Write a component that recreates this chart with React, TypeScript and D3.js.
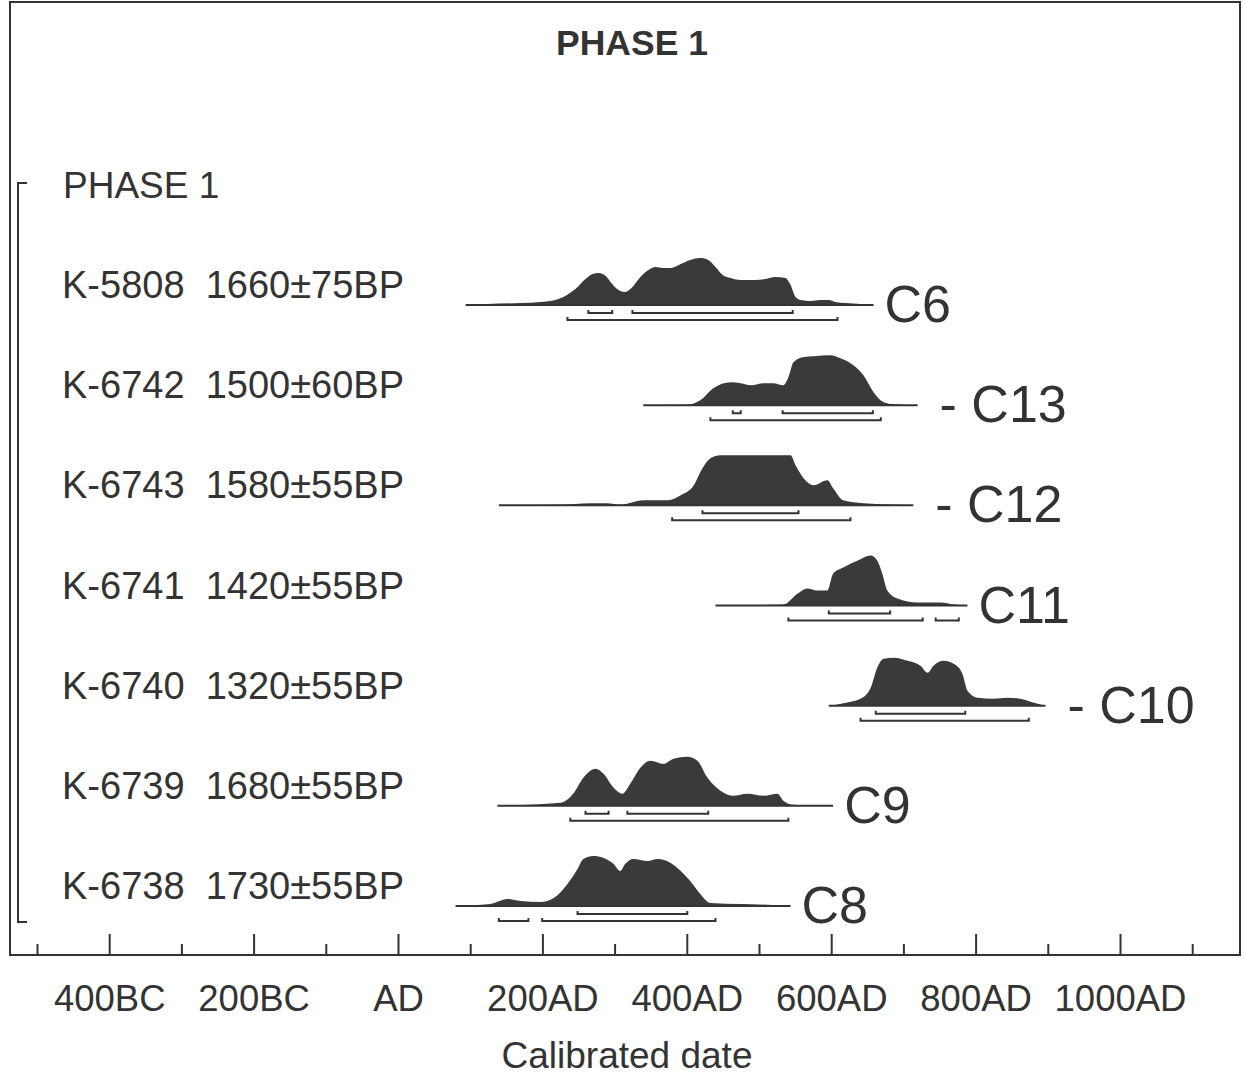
import React, { Component } from "react"
import * as d3 from "d3"

const samples = [ "K-5808", "K-6742", "K-6743", "K-6741", "K-6740", "K-6739", "K-6738" ]
const bpDates = [ "1660±75BP", "1500±60BP", "1580±55BP", "1420±55BP", "1320±55BP", "1680±55BP", "1730±55BP" ]
const contexts = [ "C6", "C13", "C12", "C11", "C10", "C9", "C8" ]
const dashedLabel = [ false, true, true, false, true, false, false ]

// [calendar year, relative probability %]
const c6Curve = [
  [ 93, 0 ], [ 123, 2 ], [ 169, 4 ], [ 197, 6 ], [ 217, 10 ], [ 231, 18 ], [ 245, 32 ], [ 259, 52 ], [ 269, 62 ],
  [ 277, 64 ], [ 287, 58 ], [ 296, 42 ], [ 307, 28 ], [ 314, 26 ], [ 324, 36 ], [ 335, 56 ], [ 346, 70 ],
  [ 356, 76 ], [ 366, 74 ], [ 377, 74 ], [ 391, 82 ], [ 404, 90 ], [ 418, 94 ], [ 429, 90 ], [ 439, 76 ],
  [ 449, 60 ], [ 460, 54 ], [ 474, 50 ], [ 494, 50 ], [ 508, 52 ], [ 522, 56 ], [ 536, 54 ], [ 543, 40 ],
  [ 550, 16 ], [ 557, 10 ], [ 571, 8 ], [ 584, 10 ], [ 596, 10 ], [ 605, 6 ], [ 619, 4 ], [ 640, 2 ], [ 658, 0 ]
]
const c13Curve = [
  [ 339, 0 ], [ 400, 1 ], [ 418, 10 ], [ 436, 34 ], [ 460, 46 ], [ 474, 44 ], [ 488, 40 ], [ 506, 44 ],
  [ 519, 44 ], [ 533, 40 ], [ 540, 56 ], [ 547, 86 ], [ 560, 96 ], [ 575, 98 ], [ 598, 100 ], [ 612, 94 ],
  [ 630, 80 ], [ 644, 60 ], [ 658, 26 ], [ 672, 6 ], [ 686, 2 ], [ 719, 0 ]
]
const c12Curve = [
  [ 139, 0 ], [ 224, 1 ], [ 266, 4 ], [ 289, 4 ], [ 307, 1 ], [ 339, 10 ], [ 373, 10 ], [ 391, 20 ],
  [ 409, 40 ], [ 421, 74 ], [ 432, 94 ], [ 446, 100 ], [ 483, 100 ], [ 543, 100 ], [ 550, 80 ], [ 561, 54 ],
  [ 575, 40 ], [ 594, 50 ], [ 602, 34 ], [ 616, 10 ], [ 644, 4 ], [ 668, 2 ], [ 713, 0 ]
]
const c11Curve = [
  [ 439, 0 ], [ 533, 2 ], [ 553, 24 ], [ 566, 34 ], [ 580, 30 ], [ 594, 30 ], [ 602, 64 ], [ 616, 76 ],
  [ 636, 90 ], [ 654, 100 ], [ 663, 90 ], [ 670, 64 ], [ 677, 30 ], [ 691, 14 ], [ 719, 6 ], [ 741, 6 ],
  [ 751, 6 ], [ 769, 2 ], [ 788, 0 ]
]
const c10Curve = [
  [ 596, 0 ], [ 620, 6 ], [ 640, 14 ], [ 654, 36 ], [ 663, 76 ], [ 672, 94 ], [ 686, 96 ], [ 705, 90 ],
  [ 723, 80 ], [ 733, 66 ], [ 741, 80 ], [ 755, 90 ], [ 769, 84 ], [ 781, 64 ], [ 788, 30 ], [ 802, 16 ],
  [ 824, 14 ], [ 843, 16 ], [ 861, 14 ], [ 880, 6 ], [ 896, 0 ]
]
const c9Curve = [
  [ 137, 0 ], [ 224, 6 ], [ 242, 24 ], [ 256, 56 ], [ 273, 74 ], [ 284, 64 ], [ 298, 36 ], [ 310, 24 ],
  [ 321, 44 ], [ 335, 76 ], [ 349, 90 ], [ 367, 84 ], [ 381, 94 ], [ 400, 98 ], [ 414, 90 ], [ 428, 56 ],
  [ 446, 30 ], [ 464, 20 ], [ 483, 24 ], [ 506, 20 ], [ 525, 24 ], [ 533, 10 ], [ 547, 2 ], [ 602, 0 ]
]
const c8Curve = [
  [ 79, 0 ], [ 127, 4 ], [ 151, 14 ], [ 169, 10 ], [ 197, 8 ], [ 215, 16 ], [ 234, 44 ], [ 248, 74 ],
  [ 256, 94 ], [ 270, 100 ], [ 284, 96 ], [ 298, 84 ], [ 307, 70 ], [ 314, 84 ], [ 325, 94 ], [ 345, 90 ],
  [ 359, 94 ], [ 377, 86 ], [ 391, 70 ], [ 404, 50 ], [ 418, 24 ], [ 432, 6 ], [ 474, 4 ], [ 519, 2 ], [ 543, 0 ]
]
const curves = [ c6Curve, c13Curve, c12Curve, c11Curve, c10Curve, c9Curve, c8Curve ]

// 68.2% and 95.4% ranges (cal AD)
const oneSigma = [
  [ [ 263, 296 ], [ 324, 546 ] ],
  [ [ 463, 474 ], [ 532, 657 ] ],
  [ [ 421, 554 ] ],
  [ [ 596, 681 ] ],
  [ [ 661, 785 ] ],
  [ [ 259, 291 ], [ 317, 429 ] ],
  [ [ 248, 400 ] ]
]
const twoSigma = [
  [ [ 234, 608 ] ],
  [ [ 432, 668 ] ],
  [ [ 379, 626 ] ],
  [ [ 540, 726 ], [ 744, 776 ] ],
  [ [ 640, 873 ] ],
  [ [ 238, 540 ] ],
  [ [ 139, 180 ], [ 199, 439 ] ]
]

const majorTicks = [ -400, -200, 0, 200, 400, 600, 800, 1000 ]
const minorTicks = [ -500, -300, -100, 100, 300, 500, 700, 900, 1100 ]
const tickLabels = [ "400BC", "200BC", "AD", "200AD", "400AD", "600AD", "800AD", "1000AD" ]

const ink = "#333"
const font = "'Liberation Sans', Arial, sans-serif"

class App extends Component {
  svgRef = React.createRef()

  componentDidMount() {
    const w = 1246
    const h = 1076

    const svg = d3.select( this.svgRef.current )
      .attr( "width", w )
      .attr( "height", h )

    const xScale = d3.scaleLinear().domain( [ 0, 1000 ] ).range( [ 398.5, 1120.5 ] )
    const rowScale = d3.scalePoint().domain( samples ).range( [ 305, 906 ] )
    const probScale = d3.scaleLinear().domain( [ 0, 100 ] ).range( [ 0, 50 ] )

    const axisY = 955

    // frame
    svg.append( "path" )
      .attr( "d", `M10,2 L1240,2 L1240,${ axisY } L10,${ axisY } Z` )
      .attr( "fill", "none" )
      .attr( "stroke", ink )
      .attr( "stroke-width", 2 )

    // title
    svg.append( "text" )
      .attr( "x", 632 )
      .attr( "y", 55 )
      .attr( "text-anchor", "middle" )
      .attr( "font-family", font )
      .attr( "font-weight", "bold" )
      .attr( "font-size", 35.5 )
      .attr( "fill", ink )
      .text( "PHASE 1" )

    // phase bracket
    svg.append( "path" )
      .attr( "d", "M27,183 L18,183 L18,922 L27,922" )
      .attr( "fill", "none" )
      .attr( "stroke", ink )
      .attr( "stroke-width", 2 )

    svg.append( "text" )
      .attr( "x", 63 )
      .attr( "y", 198 )
      .attr( "font-family", font )
      .attr( "font-size", 37 )
      .attr( "fill", ink )
      .text( "PHASE 1" )

    const area = d3.area()
      .x( d => xScale( d[ 0 ] ) )
      .y0( 0 )
      .y1( d => -probScale( d[ 1 ] ) )
      .curve( d3.curveMonotoneX )

    samples.forEach( ( s, i ) => {
      const base = rowScale( s )
      const g = svg.append( "g" ).attr( "transform", `translate(0,${ base })` )
      const curve = curves[ i ]

      svg.append( "text" )
        .attr( "x", 62 )
        .attr( "y", base - 7 )
        .attr( "font-family", font )
        .attr( "font-size", 38 )
        .attr( "fill", ink )
        .attr( "xml:space", "preserve" )
        .text( `${ s }  ${ bpDates[ i ] }` )

      g.append( "path" )
        .attr( "d", area( curve ) )
        .attr( "fill", "#3a3a3a" )

      g.append( "line" )
        .attr( "x1", xScale( curve[ 0 ][ 0 ] ) )
        .attr( "x2", xScale( curve[ curve.length - 1 ][ 0 ] ) )
        .attr( "y1", 0 )
        .attr( "y2", 0 )
        .attr( "stroke", ink )
        .attr( "stroke-width", 2 )

      const bracket = ( r, y ) =>
        `M${ xScale( r[ 0 ] ) },${ y - 3 } L${ xScale( r[ 0 ] ) },${ y } L${ xScale( r[ 1 ] ) },${ y } L${ xScale( r[ 1 ] ) },${ y - 3 }`

      g.selectAll( "path.one" )
        .data( oneSigma[ i ] )
        .enter()
        .append( "path" )
        .attr( "class", "one" )
        .attr( "d", r => bracket( r, 8 ) )
        .attr( "fill", "none" )
        .attr( "stroke", ink )
        .attr( "stroke-width", 2 )

      g.selectAll( "path.two" )
        .data( twoSigma[ i ] )
        .enter()
        .append( "path" )
        .attr( "class", "two" )
        .attr( "d", r => bracket( r, 15 ) )
        .attr( "fill", "none" )
        .attr( "stroke", ink )
        .attr( "stroke-width", 2 )

      const endX = xScale( curve[ curve.length - 1 ][ 0 ] )
      g.append( "text" )
        .attr( "x", endX + ( dashedLabel[ i ] ? 22 : 11 ) )
        .attr( "y", 17 )
        .attr( "font-family", font )
        .attr( "font-size", 52 )
        .attr( "fill", ink )
        .attr( "xml:space", "preserve" )
        .text( dashedLabel[ i ] ? `- ${ contexts[ i ] }` : contexts[ i ] )
    } )

    // axis ticks
    svg.selectAll( "line.major" )
      .data( majorTicks )
      .enter()
      .append( "line" )
      .attr( "class", "major" )
      .attr( "x1", d => xScale( d ) )
      .attr( "x2", d => xScale( d ) )
      .attr( "y1", axisY )
      .attr( "y2", axisY - 21 )
      .attr( "stroke", ink )
      .attr( "stroke-width", 2 )

    svg.selectAll( "line.minor" )
      .data( minorTicks )
      .enter()
      .append( "line" )
      .attr( "class", "minor" )
      .attr( "x1", d => xScale( d ) )
      .attr( "x2", d => xScale( d ) )
      .attr( "y1", axisY )
      .attr( "y2", axisY - 11 )
      .attr( "stroke", ink )
      .attr( "stroke-width", 2 )

    svg.selectAll( "text.tick" )
      .data( majorTicks )
      .enter()
      .append( "text" )
      .attr( "class", "tick" )
      .attr( "x", d => xScale( d ) )
      .attr( "y", 1011 )
      .attr( "text-anchor", "middle" )
      .attr( "font-family", font )
      .attr( "font-size", 36.5 )
      .attr( "fill", ink )
      .text( ( d, i ) => tickLabels[ i ] )

    svg.append( "text" )
      .attr( "x", 627 )
      .attr( "y", 1068 )
      .attr( "text-anchor", "middle" )
      .attr( "font-family", font )
      .attr( "font-size", 37 )
      .attr( "fill", ink )
      .text( "Calibrated date" )
  }
  render() {
    return (
      <svg
        ref={ this.svgRef }
        style={ { position: "absolute", left: 0, top: 0, background: "#fff" } }
      />
    )
  }
}

export default App
